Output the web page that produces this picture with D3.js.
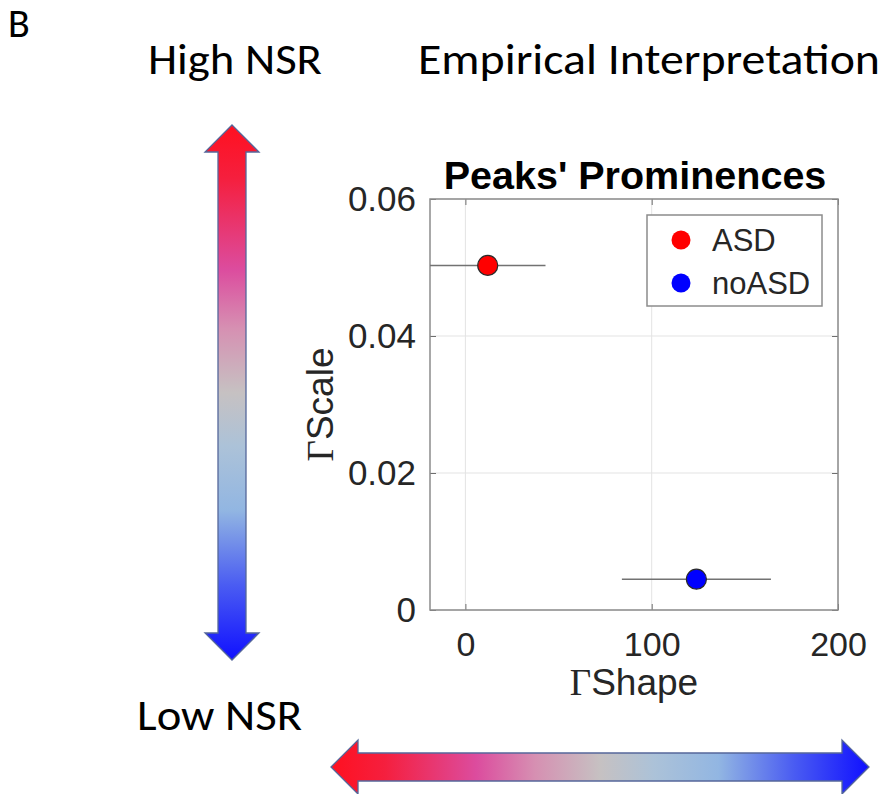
<!DOCTYPE html>
<html>
<head>
<meta charset="utf-8">
<script src="https://cdn.jsdelivr.net/npm/d3@7"></script>
<style>
  body { margin: 0; background: #fff; }
  .axis text { font-family: "Liberation Sans", Arial, Helvetica, sans-serif; fill: #262626; }
  .axis line { stroke: #6e6e6e; }
</style>
</head>
<body>
<div id="container"></div>
<script>
// data
const groups = ['ASD', 'noASD'];
const shapeMeans = [12, 124];
const shapeErrors = [31, 40];
const scaleMeans = [0.0503, 0.0045];
const groupColors = ['#ff0000', '#0000ff'];

const xTicks = [0, 100, 200];
const yTicks = [0, 0.02, 0.04, 0.06];

const gradStops = [
    [0, '#ff1020'], [0.1, '#f51f3e'], [0.27, '#dc4c9e'], [0.38, '#d690b2'],
    [0.5, '#c6c1c2'], [0.6, '#acc2d8'], [0.72, '#92b6e2'], [0.86, '#4a5cf2'], [1, '#1010ff']
];

const task = () => {
    const svg = d3.select('#container')
                    .append('svg')
                        .attr('width', 891)
                        .attr('height', 794);

    const defs = svg.append('defs');
    const grad = defs.append('linearGradient')
                    .attr('id', 'nsr')
                    .attr('x1', 0).attr('y1', 0)
                    .attr('x2', 1).attr('y2', 0);
    grad.selectAll('stop')
        .data(gradStops)
        .enter()
        .append('stop')
            .attr('offset', d => d[0])
            .attr('stop-color', d => d[1]);

    // ---- texts around the panel (fitted to the original widths)
    const labelFont = 'Carlito, Calibri, Lato, sans-serif';
    svg.append('text')
        .attr('x', 8).attr('y', 37)
        .style('font-family', labelFont)
        .style('font-size', '40px')
        .text('B');
    svg.append('text')
        .attr('x', 148).attr('y', 74)
        .attr('textLength', 174)
        .attr('lengthAdjust', 'spacingAndGlyphs')
        .style('font-family', labelFont)
        .style('font-size', '44px')
        .text('High NSR');
    svg.append('text')
        .attr('x', 418).attr('y', 74)
        .attr('textLength', 462)
        .attr('lengthAdjust', 'spacingAndGlyphs')
        .style('font-family', labelFont)
        .style('font-size', '44px')
        .text('Empirical Interpretation');
    svg.append('text')
        .attr('x', 137).attr('y', 730)
        .attr('textLength', 165)
        .attr('lengthAdjust', 'spacingAndGlyphs')
        .style('font-family', labelFont)
        .style('font-size', '44px')
        .text('Low NSR');

    // ---- double arrows (drawn along x, then rotated)
    const doubleArrow = (x0, y0, len, angle) => {
        const sw = 14, hw = 27, hl = 27;
        const p = d3.path();
        p.moveTo(0, 0);
        p.lineTo(hl, -hw);
        p.lineTo(hl, -sw);
        p.lineTo(len - hl, -sw);
        p.lineTo(len - hl, -hw);
        p.lineTo(len, 0);
        p.lineTo(len - hl, hw);
        p.lineTo(len - hl, sw);
        p.lineTo(hl, sw);
        p.lineTo(hl, hw);
        p.closePath();
        svg.append('g')
            .attr('transform', 'translate(' + x0 + ',' + y0 + ') rotate(' + angle + ')')
            .append('path')
                .attr('d', p.toString())
                .style('fill', 'url(#nsr)')
                .style('stroke', '#55679a')
                .style('stroke-width', 1.3);
    };
    doubleArrow(232, 125, 535, 90);
    doubleArrow(331, 767, 538, 0);

    // ---- scatter with error bars
    const left = 430, right = 838, top = 199, bottom = 610;
    const xScale = d3.scaleLinear().domain([-19, 200]).range([left, right]);
    const yScale = d3.scaleLinear().domain([0, 0.06]).range([bottom, top]);

    const plot = svg.append('g').attr('class', 'scatter');

    plot.append('rect')
        .attr('x', left).attr('y', top)
        .attr('width', right - left).attr('height', bottom - top)
        .style('fill', '#fff');

    // grid
    plot.selectAll('.xgrid')
        .data(xTicks)
        .enter()
        .append('line')
            .attr('class', 'xgrid')
            .attr('x1', d => xScale(d)).attr('x2', d => xScale(d))
            .attr('y1', top).attr('y2', bottom)
            .style('stroke', '#e3e3e3');
    plot.selectAll('.ygrid')
        .data(yTicks)
        .enter()
        .append('line')
            .attr('class', 'ygrid')
            .attr('x1', left).attr('x2', right)
            .attr('y1', d => yScale(d)).attr('y2', d => yScale(d))
            .style('stroke', '#e3e3e3');

    const xAxis = d3.axisBottom(xScale).tickValues(xTicks).tickSizeInner(-6).tickSizeOuter(0).tickPadding(22)
                    .tickFormat(d => d3.format('d')(d));
    const yAxis = d3.axisLeft(yScale).tickValues(yTicks).tickSizeInner(-6).tickSizeOuter(0).tickPadding(14)
                    .tickFormat(d => d === 0 ? '0' : d.toFixed(2));

    plot.append('g')
        .attr('class', 'axis')
        .attr('transform', 'translate(0,' + bottom + ')')
        .call(xAxis)
        .call(g => g.select('.domain').remove())
        .selectAll('text').style('font-size', '34px');
    plot.append('g')
        .attr('class', 'axis')
        .attr('transform', 'translate(' + left + ',0)')
        .call(yAxis)
        .call(g => g.select('.domain').remove())
        .selectAll('text').style('font-size', '35px');
    plot.append('g')
        .attr('class', 'axis')
        .attr('transform', 'translate(0,' + top + ')')
        .call(d3.axisTop(xScale).tickValues(xTicks).tickSizeInner(-6).tickSizeOuter(0).tickFormat(''))
        .call(g => g.select('.domain').remove());
    plot.append('g')
        .attr('class', 'axis')
        .attr('transform', 'translate(' + right + ',0)')
        .call(d3.axisRight(yScale).tickValues(yTicks).tickSizeInner(-6).tickSizeOuter(0).tickFormat(''))
        .call(g => g.select('.domain').remove());

    plot.append('rect')
        .attr('x', left).attr('y', top)
        .attr('width', right - left).attr('height', bottom - top)
        .style('fill', 'none')
        .style('stroke', '#8c8c8c')
        .style('stroke-width', 1.5);

    defs.append('clipPath').attr('id', 'plotclip')
        .append('rect')
            .attr('x', left).attr('y', top)
            .attr('width', right - left).attr('height', bottom - top);

    const points = groups.map((g, i) => ({
        group: g, x: shapeMeans[i], err: shapeErrors[i], y: scaleMeans[i], color: groupColors[i]
    }));

    const marks = plot.append('g').attr('clip-path', 'url(#plotclip)');
    marks.selectAll('.errbar')
        .data(points)
        .enter()
        .append('line')
            .attr('class', 'errbar')
            .attr('x1', d => xScale(d.x - d.err))
            .attr('x2', d => xScale(d.x + d.err))
            .attr('y1', d => yScale(d.y))
            .attr('y2', d => yScale(d.y))
            .style('stroke', '#727272')
            .style('stroke-width', 1.6);
    marks.selectAll('.pt')
        .data(points)
        .enter()
        .append('circle')
            .attr('class', 'pt')
            .attr('cx', d => xScale(d.x))
            .attr('cy', d => yScale(d.y))
            .attr('r', 10)
            .style('fill', d => d.color)
            .style('stroke', '#2a2a2a')
            .style('stroke-width', 1.2);

    // title and axis labels
    svg.append('text')
        .attr('x', (left + right) / 2 + 1).attr('y', 189)
        .attr('text-anchor', 'middle')
        .style('font-family', '"Liberation Sans", Arial, sans-serif')
        .style('font-weight', 'bold')
        .style('font-size', '39.5px')
        .style('fill', '#000')
        .text("Peaks' Prominences");

    const xLabel = svg.append('text')
        .attr('x', (left + right) / 2).attr('y', 695)
        .attr('text-anchor', 'middle')
        .style('font-family', '"Liberation Sans", Arial, sans-serif')
        .style('font-size', '37px')
        .style('fill', '#262626');
    xLabel.append('tspan').style('font-family', '"Liberation Serif", "Times New Roman", serif').text('\u0393');
    xLabel.append('tspan').text('Shape');

    const yLabel = svg.append('text')
        .attr('transform', 'translate(333,' + ((top + bottom) / 2) + ') rotate(-90)')
        .attr('text-anchor', 'middle')
        .style('font-family', '"Liberation Sans", Arial, sans-serif')
        .style('font-size', '37px')
        .style('fill', '#262626');
    yLabel.append('tspan').style('font-family', '"Liberation Serif", "Times New Roman", serif').text('\u0393');
    yLabel.append('tspan').text('Scale');

    // legend
    const legend = svg.append('g').attr('class', 'legend');
    legend.append('rect')
        .attr('x', 647).attr('y', 215)
        .attr('width', 175).attr('height', 91)
        .style('fill', '#fff')
        .style('stroke', '#8c8c8c')
        .style('stroke-width', 1.5);
    const items = legend.selectAll('.item')
        .data(points)
        .enter()
        .append('g')
            .attr('class', 'item')
            .attr('transform', (d, i) => 'translate(681,' + (240 + i * 43) + ')');
    items.append('circle')
        .attr('r', 9.5)
        .style('fill', d => d.color)
        .style('stroke', 'none');
    items.append('text')
        .attr('x', 31).attr('y', 11)
        .style('font-family', '"Liberation Sans", Arial, sans-serif')
        .style('font-size', '31px')
        .style('fill', '#262626')
        .text(d => d.group);
};

task();
</script>
</body>
</html>
